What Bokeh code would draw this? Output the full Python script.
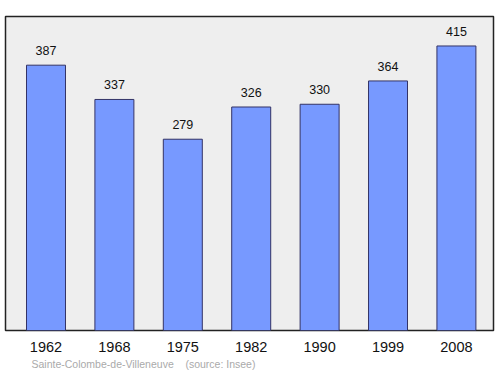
from bokeh.plotting import figure
from bokeh.models import ColumnDataSource, FixedTicker, Title, Range1d
from bokeh.core.properties import value
from bokeh.embed import file_html
from bokeh.resources import INLINE

years = ["1962", "1968", "1975", "1982", "1990", "1999", "2008"]
population = [387, 337, 279, 326, 330, 364, 415]
footer = "Sainte-Colombe-de-Villeneuve\u00a0\u00a0\u00a0\u00a0(source: Insee)"

idx = list(range(len(years)))
src = ColumnDataSource(dict(x=idx, top=population, lab=[str(v) for v in population]))

p = figure(width=500, height=374, output_backend="svg", toolbar_location=None,
           x_range=Range1d(-0.592, 6.542), y_range=Range1d(0, 458),
           min_border_left=5, min_border_right=7, min_border_top=16, min_border_bottom=44)
p.background_fill_color = "#eeeeee"
p.border_fill_color = "white"
p.outline_line_color = "#222222"
p.outline_line_width = 1.5
p.grid.visible = False
p.yaxis.visible = False

p.vbar(x="x", top="top", bottom=0, width=0.57, source=src,
       fill_color="#7799ff", line_color="#333366", line_width=1)
p.text(x="x", y="top", text="lab", source=src, y_offset=-10,
       text_align="center", text_baseline="bottom",
       text_font=value("Liberation Sans"), text_font_size="12.5px", text_color="#111111")

ax = p.xaxis[0]
ax.ticker = FixedTicker(ticks=idx)
ax.major_label_overrides = {i: y for i, y in zip(idx, years)}
ax.axis_line_color = None
ax.major_tick_line_color = None
ax.minor_tick_line_color = None
ax.major_tick_out = 0
ax.major_tick_in = 0
ax.major_label_text_font = "Liberation Sans"
ax.major_label_text_font_size = "14.5px"
ax.major_label_text_color = "#111111"
ax.major_label_standoff = 11

t = Title(text=footer, text_font="Liberation Sans", text_font_size="10.5px",
          text_color="#aaaaaa", text_font_style="normal", align="left",
          offset=26, standoff=3)
p.add_layout(t, "below")

open("out.html", "w").write(file_html(p, INLINE))
